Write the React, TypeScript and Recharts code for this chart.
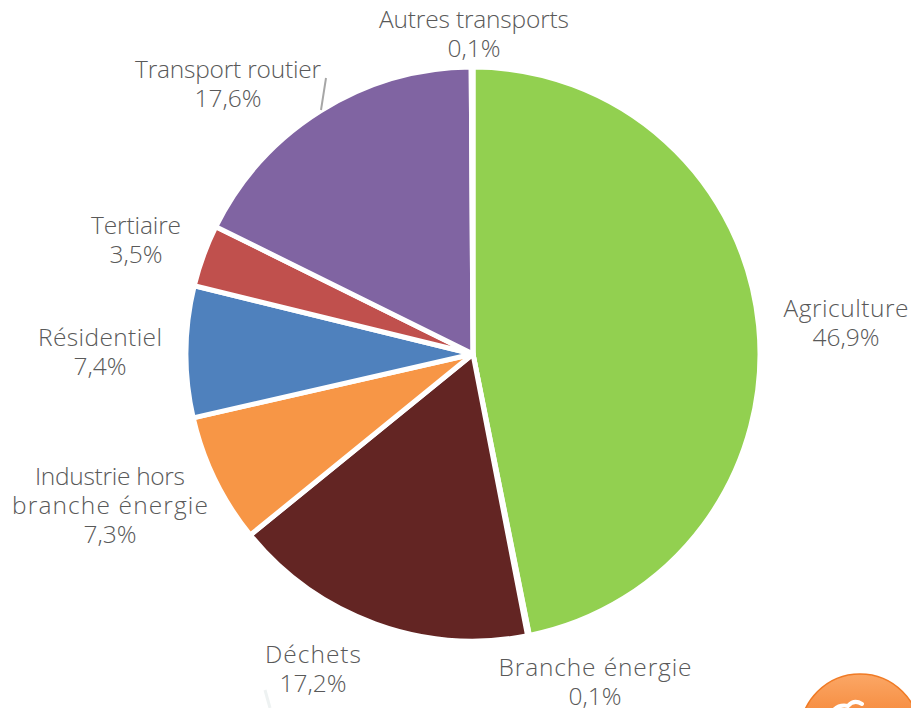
import { Pie, PieChart, Cell } from 'recharts';

const sectors = ['Agriculture', 'Branche énergie', 'Déchets', 'Industrie hors branche énergie', 'Résidentiel', 'Tertiaire', 'Transport routier', 'Autres transports'];
const shares = [46.9, 0.1, 17.2, 7.3, 7.4, 3.5, 17.6, 0.1];
const percentLabels = ['46,9%', '0,1%', '17,2%', '7,3%', '7,4%', '3,5%', '17,6%', '0,1%'];
const colors = ['#92d050', '#4f81bd', '#632523', '#f79646', '#4f81bd', '#c0504d', '#8064a2', '#9bbb59'];

const chartData = sectors.map((name, i) => ({ name, value: shares[i] }));

// label layout, by slice: centre x, first-line middle y, name lines and their widths
const labelBoxes = [
  { x: 846, y: 307, lines: ['Agriculture'], widths: [125] },
  { x: 595, y: 666, lines: ['Branche énergie'], widths: [193] },
  { x: 313, y: 653, lines: ['Déchets'], widths: [96] },
  { x: 110, y: 475, lines: ['Industrie hors', 'branche énergie'], widths: [150, 196] },
  { x: 100, y: 336, lines: ['Résidentiel'], widths: [124] },
  { x: 136, y: 224, lines: ['Tertiaire'], widths: [90] },
  { x: 228, y: 68, lines: ['Transport routier'], widths: [186] },
  { x: 474, y: 18, lines: ['Autres transports'], widths: [190] },
];

const FONT = '"Open Sans", sans-serif';

function SliceLabel({ index }: { index: number }) {
  const box = labelBoxes[index];
  const rows = [...box.lines, percentLabels[index]];
  return (
    <g>
      {index === 6 ? <line x1={326} y1={78} x2={321} y2={110} stroke="#a6a6a6" strokeWidth={2} /> : null}
      {rows.map((row, i) => (
        <text
          key={row}
          x={box.x}
          y={box.y + i * 29}
          textAnchor="middle"
          dominantBaseline="central"
          fontFamily={FONT}
          fontSize={24.5}
          fontWeight={300}
          textLength={box.widths[i]}
          fill="#595959"
        >
          {row}
        </text>
      ))}
    </g>
  );
}

export default function App() {
  return (
    <div style={{ position: 'fixed', left: 0, top: 0, width: 911, height: 708, overflow: 'hidden', background: '#fff' }}>
      <PieChart width={911} height={708} margin={{ top: 0, right: 0, bottom: 0, left: 0 }}>
        <Pie
          data={chartData}
          dataKey="value"
          cx={473}
          cy={354}
          outerRadius={287}
          startAngle={90}
          endAngle={-270}
          stroke="#fff"
          strokeWidth={5}
          isAnimationActive={false}
          labelLine={false}
          label={(props: any) => <SliceLabel index={props.index} />}
        >
          {sectors.map((name, i) => (
            <Cell key={name} fill={colors[i]} />
          ))}
        </Pie>
      </PieChart>
      <svg width={911} height={708} style={{ position: 'absolute', left: 0, top: 0, pointerEvents: 'none' }}>
        <defs>
          <linearGradient id="badge" x1="0" y1="0" x2="0" y2="1">
            <stop offset="0" stopColor="#fba766" />
            <stop offset="0.5" stopColor="#f47f2c" />
          </linearGradient>
        </defs>
        <line x1={265} y1={690} x2={270} y2={708} stroke="#eef2f2" strokeWidth={3} />
        <circle cx={860} cy={734} r={60} fill="url(#badge)" stroke="#f07a24" strokeWidth={1.5} />
        <path d="M832 712 q6 -8 16 -6 q6 -7 14 -2" fill="none" stroke="#fff" strokeWidth={4} strokeLinecap="round" />
      </svg>
    </div>
  );
}
